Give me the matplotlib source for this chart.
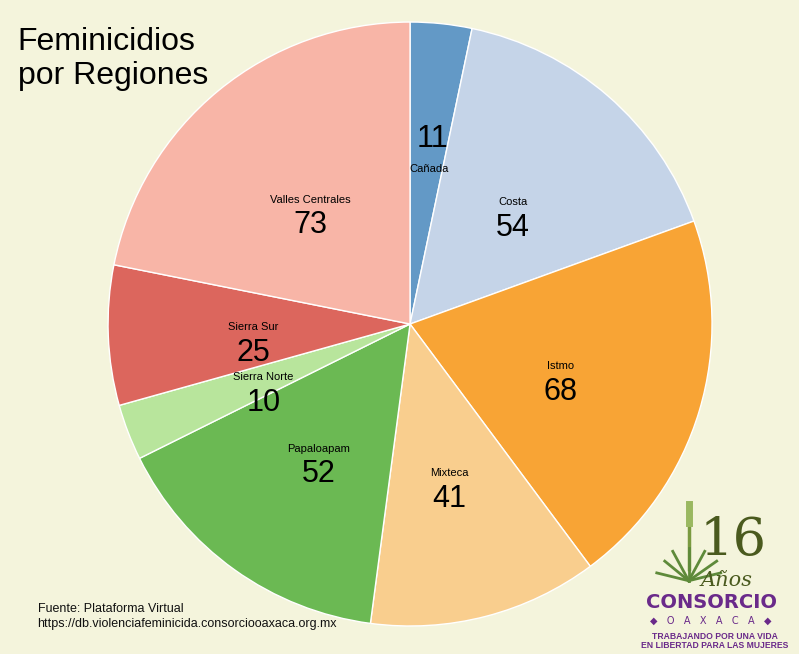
import numpy as np
import matplotlib.pyplot as plt

plt.rcParams['font.family'] = ['Liberation Sans', 'DejaVu Sans']

regiones = ["Cañada", "Costa", "Istmo", "Mixteca", "Papaloapam",
            "Sierra Norte", "Sierra Sur", "Valles Centrales"]
casos = [11, 54, 68, 41, 52, 10, 25, 73]
colores = ["#6399c6", "#c5d4e8", "#f8a435", "#f9ce8e", "#6bb953",
           "#b8e59c", "#dc665d", "#f8b5a7"]
fondo = "#f4f4dc"

fig = plt.figure(figsize=(7.99, 6.54), dpi=100, facecolor=fondo)
ax = fig.add_axes([0.1352, 0.0428, 0.756, 0.9235])
ax.set_facecolor(fondo)

wedges, _ = ax.pie(casos, colors=colores, startangle=90, counterclock=False,
                   radius=1, wedgeprops=dict(edgecolor="white", linewidth=1))
ax.set_xlim(-1, 1)
ax.set_ylim(-1, 1)
ax.set_aspect("equal")
ax.axis("off")

for w, nombre, n in zip(wedges, regiones, casos):
    ang = np.deg2rad((w.theta1 + w.theta2) / 2)
    r = 0.52
    x, y = r * np.cos(ang), r * np.sin(ang) - 0.025
    if nombre == "Cañada":
        # la etiqueta de la rebanada angosta de arriba va invertida
        ax.text(x + 0.02, y + 0.12, str(n), ha="center", va="center", fontsize=22)
        ax.text(x + 0.01, y + 0.02, nombre, ha="center", va="center", fontsize=8)
    else:
        ax.text(x, y + 0.035, nombre, ha="center", va="center", fontsize=8)
        ax.text(x, y - 0.05, str(n), ha="center", va="center", fontsize=22)

fig.text(0.022, 0.958, "Feminicidios\npor Regiones", ha="left", va="top",
         fontsize=23, linespacing=1.15)
fig.text(0.047, 0.078, "Fuente: Plataforma Virtual\nhttps://db.violenciafeminicida.consorciooaxaca.org.mx",
         ha="left", va="top", fontsize=9, linespacing=1.35, color="#111111")

# logo (aproximado)
verde = "#4a5a1e"
morado = "#6a2a8a"
fig.add_artist(plt.Line2D([0.862, 0.862], [0.13, 0.225], color="#7a9a40", lw=2.5))
for dx, dy in [(-0.03, 0.03), (-0.02, 0.045), (0.0, 0.05), (0.02, 0.045),
               (0.035, 0.03), (-0.04, 0.012), (0.04, 0.012)]:
    fig.add_artist(plt.Line2D([0.862, 0.862 + dx], [0.112, 0.112 + dy],
                              color="#5e8a3a", lw=2))
fig.add_artist(plt.Line2D([0.862, 0.862], [0.2, 0.23], color="#9ab860", lw=5))
fig.text(0.918, 0.135, "16", ha="center", va="bottom", fontsize=38,
         family="DejaVu Serif", color=verde)
fig.text(0.91, 0.098, "Años", ha="center", va="bottom", fontsize=15,
         family="DejaVu Serif", style="italic", color=verde)
fig.text(0.89, 0.064, "CONSORCIO", ha="center", va="bottom", fontsize=14,
         family="DejaVu Sans", weight="bold", color=morado)
fig.text(0.89, 0.043, "◆   O   A   X   A   C   A   ◆", ha="center", va="bottom",
         fontsize=7, family="DejaVu Sans", color=morado)
fig.text(0.895, 0.006, "TRABAJANDO POR UNA VIDA\nEN LIBERTAD PARA LAS MUJERES",
         ha="center", va="bottom", fontsize=6.2, weight="bold", color=morado,
         linespacing=1.05)

fig.savefig("out.png", dpi=100, facecolor=fondo)
